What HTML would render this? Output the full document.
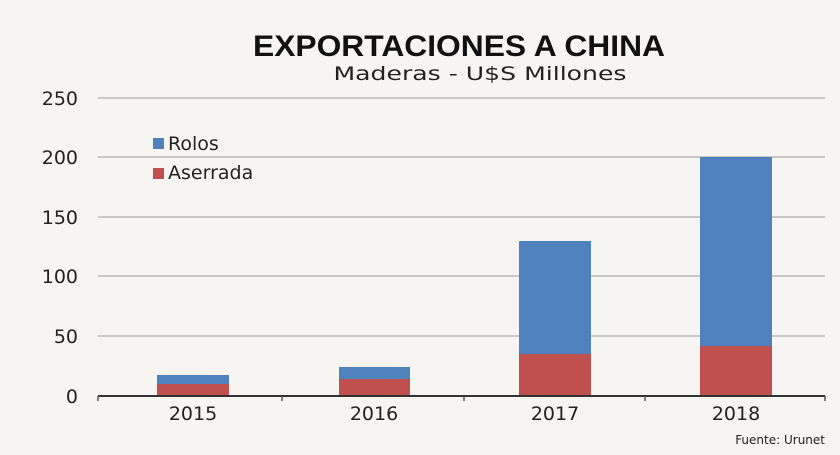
<!DOCTYPE html>
<html><head><meta charset="utf-8"><style>
html,body{margin:0;padding:0;background:#f6f5f1;}
svg{display:block;font-family:"DejaVu Sans","Liberation Sans",sans-serif;}
</style></head><body>
<svg width="840" height="455" viewBox="0 0 840 455">
<rect width="840" height="455" fill="#f6f5f1"/>
<text x="459" y="56" text-anchor="middle" font-size="30" font-weight="bold" fill="#111" font-family="Liberation Sans, sans-serif" textLength="412" lengthAdjust="spacingAndGlyphs">EXPORTACIONES A CHINA</text>
<text x="480" y="80" text-anchor="middle" font-size="19" fill="#222" textLength="293" lengthAdjust="spacingAndGlyphs">Maderas - U$S Millones</text>
<g stroke="#c8c8c4" stroke-width="2">
<line x1="98" y1="98" x2="825" y2="98"/>
<line x1="98" y1="157" x2="825" y2="157"/>
<line x1="98" y1="217" x2="825" y2="217"/>
<line x1="98" y1="276" x2="825" y2="276"/>
<line x1="98" y1="336" x2="825" y2="336"/>
</g>
<g font-size="19" fill="#222" text-anchor="end">
<text x="78" y="105">250</text>
<text x="78" y="164">200</text>
<text x="78" y="224">150</text>
<text x="78" y="283">100</text>
<text x="78" y="343">50</text>
<text x="78" y="403">0</text>
</g>
<rect x="157" y="375" width="72" height="9" fill="#4f81bd"/>
<rect x="157" y="384" width="72" height="12" fill="#c0504d"/>
<rect x="339" y="367" width="71" height="12" fill="#4f81bd"/>
<rect x="339" y="379" width="71" height="17" fill="#c0504d"/>
<rect x="519" y="241" width="72" height="113" fill="#4f81bd"/>
<rect x="519" y="354" width="72" height="42" fill="#c0504d"/>
<rect x="700" y="157" width="72" height="189" fill="#4f81bd"/>
<rect x="700" y="346" width="72" height="50" fill="#c0504d"/>
<line x1="98" y1="396" x2="825" y2="396" stroke="#333" stroke-width="2"/>
<g stroke="#555" stroke-width="1.5">
<line x1="98" y1="396" x2="98" y2="401"/><line x1="282" y1="396" x2="282" y2="401"/><line x1="464" y1="396" x2="464" y2="401"/><line x1="645" y1="396" x2="645" y2="401"/><line x1="825" y1="396" x2="825" y2="401"/>
</g>
<g font-size="19" fill="#222" text-anchor="middle">
<text x="193" y="420">2015</text>
<text x="374" y="420">2016</text>
<text x="555" y="420">2017</text>
<text x="736" y="420">2018</text>
</g>
<text x="825" y="444" text-anchor="end" font-size="12" fill="#222">Fuente: Urunet</text>
<rect x="153" y="138" width="11" height="11" fill="#4f81bd"/>
<text x="168" y="150" font-size="19" fill="#222">Rolos</text>
<rect x="153" y="168" width="11" height="11" fill="#c0504d"/>
<text x="168" y="179" font-size="19" fill="#222">Aserrada</text>
</svg>
</body></html>
